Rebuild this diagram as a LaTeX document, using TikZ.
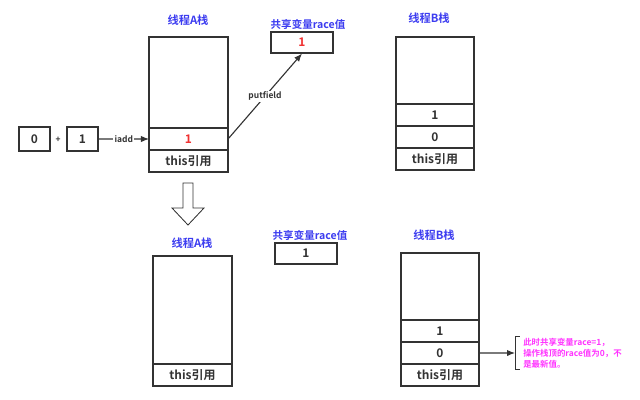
\documentclass[tikz,border=0pt]{standalone}
\usepackage{fontspec}
\setmainfont{Noto Sans CJK SC}[BoldFont={* Bold}]
\usetikzlibrary{arrows.meta, positioning}
\definecolor{lblblue}{RGB}{60,60,240}
\definecolor{linegray}{RGB}{51,51,51}
\definecolor{notepink}{RGB}{255,51,255}
\definecolor{valred}{RGB}{240,50,50}
\tikzstyle{title}    = [text=lblblue, inner sep=0pt, font=\fontsize{8}{9}\selectfont\bfseries]
\tikzstyle{varlabel} = [text=lblblue, inner sep=0pt, font=\fontsize{7.5}{9}\selectfont\bfseries]
\tikzstyle{cell}     = [rectangle, draw=linegray, line width=0.8pt, minimum width=1.975cm,
                        minimum height=0.55cm, inner sep=0pt, outer sep=0pt, text=linegray,
                        font=\fontsize{8.5}{10}\selectfont\bfseries]
\tikzstyle{numbox}   = [rectangle, draw=linegray, line width=0.8pt, minimum width=0.775cm,
                        minimum height=0.6cm, inner sep=0pt, text=linegray,
                        font=\fontsize{8.5}{10}\selectfont\bfseries]
\tikzstyle{varbox}   = [rectangle, draw=linegray, line width=0.8pt, minimum width=1.55cm,
                        minimum height=0.525cm, inner sep=0pt, text=linegray,
                        font=\fontsize{8.5}{10}\selectfont\bfseries]
\tikzstyle{oplabel}  = [fill=white, inner sep=1pt, text=linegray, font=\fontsize{6}{7}\selectfont\bfseries]
\tikzstyle{note}     = [text=notepink, align=left, text width=2.7cm, inner xsep=0.2cm, inner ysep=1pt,
                        font=\fontsize{6}{7.8}\selectfont\bfseries]
\tikzstyle{arrow}    = [-{Latex[length=2mm, width=1.6mm]}, line width=0.8pt, draw=linegray]

\begin{document}
\begin{tikzpicture}[x=0.025cm, y=-0.025cm]
  \useasboundingbox (0,0) rectangle (640,400);

  \node (titleA1) [title] at (188,20) {线程A栈};
  \node (a1top)   [cell, anchor=north, minimum height=2.275cm] at (188.5,37) {};
  \node (a1val)   [cell, below=0pt of a1top, text=valred] {1};
  \node (a1this)  [cell, below=0pt of a1val] {this引用};

  \node (zero)    [numbox] at (34.5,139) {0};
  \node (plus)    [oplabel, fill=none] at (58,140) {+};
  \node (one)     [numbox] at (82.5,139) {1};

  \node (race1lbl) [varlabel] at (308,24) {共享变量race值};
  \node (race1)    [varbox, text=valred] at (302,42.5) {1};

  \node (titleB1) [title] at (429,18) {线程B栈};
  \node (b1top)   [cell, anchor=north, minimum width=1.95cm, minimum height=1.675cm] at (435,37) {};
  \node (b1one)   [cell, minimum width=1.95cm, below=0pt of b1top] {1};
  \node (b1zero)  [cell, minimum width=1.95cm, below=0pt of b1one] {0};
  \node (b1this)  [cell, minimum width=1.95cm, below=0pt of b1zero] {this引用};

  \draw [arrow] (one) -- node [oplabel] {iadd} (a1val);
  \draw [arrow] (a1val.east) -- node [oplabel] {putfield} (race1.south);

  \draw [line width=0.6pt, draw=linegray] (183,183) -- (193,183) -- (193,208) -- (204,208)
        -- (188,225) -- (172,208) -- (183,208) -- cycle;

  \node (titleA2) [title] at (192,243) {线程A栈};
  \node (a2top)   [cell, anchor=north, minimum height=2.7cm] at (192.5,256) {};
  \node (a2this)  [cell, below=0pt of a2top] {this引用};

  \node (race2lbl) [varlabel] at (310,235) {共享变量race值};
  \node (race2)    [varbox] at (306,253.5) {1};

  \node (titleB2) [title] at (434,235) {线程B栈};
  \node (b2top)   [cell, anchor=north, minimum width=1.95cm, minimum height=1.675cm] at (440,253) {};
  \node (b2one)   [cell, minimum width=1.95cm, below=0pt of b2top] {1};
  \node (b2zero)  [cell, minimum width=1.95cm, below=0pt of b2one] {0};
  \node (b2this)  [cell, minimum width=1.95cm, below=0pt of b2zero] {this引用};

  \node (remark) [note, anchor=west] at (515,353) {此时共享变量race=1，\\操作栈顶的race值为0，不\\是最新值。};
  \draw [line width=0.7pt, draw=linegray] ([xshift=3.5pt]remark.north west) -- (remark.north west)
        -- (remark.south west) -- ([xshift=3.5pt]remark.south west);
  \draw [arrow] (b2zero) -- (remark);
\end{tikzpicture}
\end{document}
